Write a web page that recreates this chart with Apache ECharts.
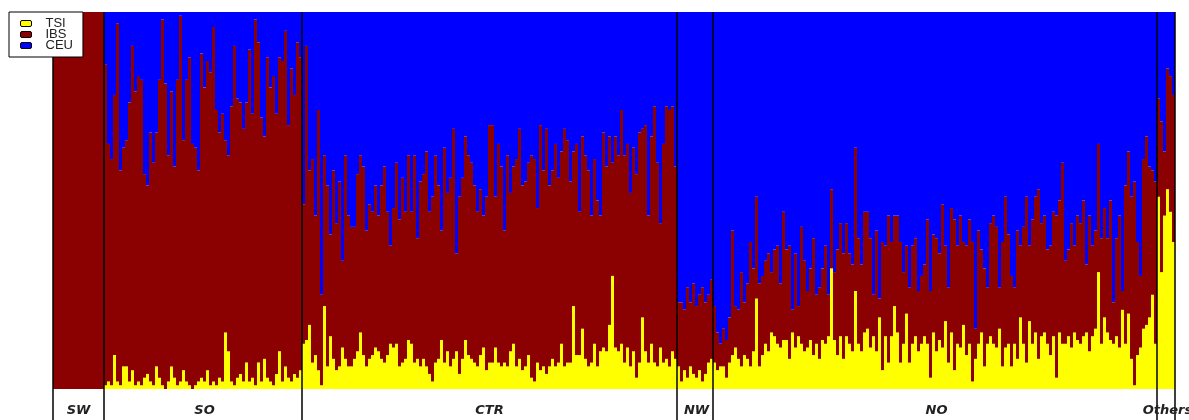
<!DOCTYPE html>
<html><head><meta charset="utf-8">
<script src="https://cdn.jsdelivr.net/npm/echarts@6/dist/echarts.min.js"></script>
<style>html,body{margin:0;padding:0;background:#fff}#c{width:1189px;height:420px}</style>
</head><body><div id="c"></div>
<script>
// Groups (population regions) and number of individuals (bars) in each
const groupNames = ['SW','SO','CTR','NW','NO','Others'];
const groupSizes = [17,66,125,12,148,6];
const seriesNames = ['TSI','IBS','CEU'];

// Ancestry proportions (%) per individual, per group
const swTSI = [0,0,0,0,0,0,0,0,0,0,0,0,0,0,0,0,0];
const swIBS = [100,100,100,100,100,100,100,100,100,100,100,100,100,100,100,100,100];
const swCEU = [0,0,0,0,0,0,0,0,0,0,0,0,0,0,0,0,0];

const soTSI = [1,2,1,9,2,1,6,6,2,5,1,2,1,3,4,2,1,6,3,1,0,2,6,3,1,2,5,2,1,0,1,2,3,2,5,1,2,1,3,2,15,10,2,1,3,4,2,7,2,3,1,7,2,8,3,2,1,4,10,2,6,3,2,4,3,5];
const soIBS = [85,63,60,69,95,57,58,60,74,86,78,81,81,54,50,66,59,62,79,97,81,60,73,56,81,97,61,80,87,65,63,56,86,78,82,83,94,73,65,71,51,52,73,90,74,72,67,69,88,70,97,85,70,59,85,78,82,69,78,85,89,67,83,74,89,83];
const soCEU = [14,35,39,22,3,42,36,34,24,9,21,17,18,43,46,32,40,32,18,2,19,38,21,41,18,1,34,18,12,35,36,42,11,20,13,16,4,26,32,27,34,38,25,9,23,24,31,24,10,27,2,8,28,33,12,20,17,27,12,13,5,30,15,22,8,12];

const ctrTSI = [12,13,17,7,9,5,1,22,6,14,8,5,6,11,8,6,6,8,10,15,9,6,8,9,11,10,8,7,9,12,11,12,6,7,8,13,12,7,8,6,8,6,4,2,7,8,13,7,10,6,8,10,4,8,13,9,8,7,6,9,11,5,7,
  7,11,7,6,7,6,10,12,6,8,5,6,9,3,2,7,5,6,4,6,8,6,7,12,6,7,7,22,9,9,16,8,6,7,12,6,10,11,10,17,30,11,10,12,7,11,6,10,3,7,19,10,7,12,7,6,11,7,8,6,10,8];
const ctrIBS = [37,78,41,54,37,69,24,40,48,27,50,39,49,23,54,40,37,35,47,47,50,36,41,38,43,36,46,52,38,26,37,48,39,49,39,49,35,55,32,49,49,57,43,49,55,46,29,57,42,50,61,26,47,48,54,53,52,47,41,44,35,46,63,
  63,40,58,53,35,56,42,47,55,61,49,49,51,59,59,41,65,52,65,48,50,59,49,51,63,59,48,41,56,38,51,54,52,39,49,44,36,57,49,50,30,56,52,62,55,54,46,54,54,61,50,60,39,55,68,54,33,58,67,68,65,51];
const ctrCEU = [51,9,42,39,54,26,75,38,46,59,42,56,45,66,38,54,57,57,43,38,41,58,51,53,46,54,46,41,53,62,52,40,55,44,53,38,53,38,60,45,43,37,53,49,38,46,58,36,48,44,31,64,49,44,33,38,40,46,53,47,54,49,30,
  30,49,35,41,58,38,48,41,39,31,46,45,40,38,39,52,30,42,31,46,42,35,44,37,31,34,45,37,35,53,33,38,42,54,39,50,54,32,41,33,40,33,38,26,38,35,48,36,43,32,31,30,54,33,25,40,56,35,25,26,25,41];

const nwTSI = [6,2,5,3,6,4,3,5,2,4,7,8];
const nwIBS = [17,21,16,24,17,24,19,20,25,19,18,21];
const nwCEU = [77,77,79,73,77,72,78,75,73,77,75,71];

const noTSI = [7,5,6,6,3,7,9,11,8,6,9,8,6,10,24,6,9,12,10,15,14,12,11,13,13,8,15,11,14,12,10,11,13,9,12,8,13,12,14,32,13,9,14,8,14,12,10,26,12,10,15,
  16,11,14,10,19,5,14,7,14,22,15,7,12,20,7,12,14,10,12,14,12,3,15,10,13,11,18,7,15,5,12,11,17,9,12,2,8,12,15,6,12,14,12,11,16,6,11,12,6,
  12,8,19,12,7,18,12,15,8,14,15,12,9,14,3,15,12,12,14,11,15,13,12,14,15,10,14,16,31,12,19,15,13,12,14,11,21,12,20,8,1,9,11,16,17,19,25,12];
const noIBS = [15,10,6,10,10,12,33,11,13,25,14,20,33,22,27,22,21,22,26,16,23,26,17,34,24,30,6,25,8,31,24,15,19,31,13,19,19,26,11,21,18,28,30,28,30,24,23,38,28,23,32,
  31,29,11,32,5,34,24,39,25,24,31,32,19,18,20,26,26,16,18,19,33,23,26,30,23,38,20,20,33,40,26,35,22,29,33,37,8,30,22,26,15,30,34,32,11,33,40,29,24,
  15,34,19,31,44,20,33,36,45,30,31,25,29,33,43,35,48,22,23,33,23,33,32,36,18,36,24,26,34,28,29,25,37,11,26,35,5,42,43,43,54,30,19,45,50,40,33,43];
const noCEU = [78,85,88,84,87,81,58,78,79,69,77,72,61,68,49,72,70,66,64,69,63,62,72,53,63,62,79,64,78,57,66,74,68,60,75,73,68,62,75,47,69,63,56,64,56,64,67,36,60,67,53,
  53,60,75,58,76,61,62,54,61,54,54,61,69,62,73,62,60,74,70,67,55,74,59,60,64,51,62,73,52,55,62,54,61,62,55,61,84,58,63,68,73,56,54,57,73,61,49,59,70,
  73,58,62,57,49,62,55,49,47,56,54,63,62,53,54,50,40,66,63,56,62,54,56,50,67,54,62,58,35,60,52,60,50,77,60,54,74,46,37,49,45,61,70,39,33,41,42,45];

const othTSI = [51,31,46,53,47,39];
const othIBS = [26,40,17,32,36,39];
const othCEU = [23,29,37,15,17,22];

const tsi = [].concat(swTSI, soTSI, ctrTSI, nwTSI, noTSI, othTSI);
const ibs = [].concat(swIBS, soIBS, ctrIBS, nwIBS, noIBS, othIBS);
const ceu = [].concat(swCEU, soCEU, ctrCEU, nwCEU, noCEU, othCEU);

// category label of each bar = its group name
const cats = [];
const starts = new Set();
const mids = new Set();
let acc = 0;
groupSizes.forEach((n, g) => {
  starts.add(acc);
  mids.add(acc + Math.floor(n / 2));
  for (let k = 0; k < n; k++) cats.push(groupNames[g]);
  acc += n;
});

const colors = ['#ffff00', '#8b0000', '#0000ff'];
const chart = echarts.init(document.getElementById('c'), null, {renderer: 'canvas'});
const mk = (name, data, color) => ({
  name, type: 'bar', stack: 'q', data,
  barCategoryGap: '0%', barWidth: '100%',
  itemStyle: {color, borderWidth: 0},
  emphasis: {disabled: true},
  z: 2
});
chart.setOption({
  animation: false,
  backgroundColor: '#fff',
  grid: {left: 53, right: 14, top: 12, bottom: 31, containLabel: false, outerBoundsMode: 'none'},
  legend: {
    data: seriesNames, orient: 'vertical', left: 9, top: 12,
    backgroundColor: '#fff', borderColor: '#000', borderWidth: 1, borderRadius: 0,
    padding: [5, 10, 5, 11], itemWidth: 11, itemHeight: 6, itemGap: -2,
    icon: 'roundRect', itemStyle: {borderColor: '#000', borderWidth: 1},
    textStyle: {fontSize: 13, color: '#222', fontFamily: 'Liberation Sans', lineHeight: 10, padding: [0, 0, 0, 9]},
    selectedMode: false, z: 20
  },
  xAxis: {
    type: 'category', data: cats, z: 10,
    axisLine: {show: false},
    axisTick: {show: true, interval: (i) => starts.has(i), length: 31, lineStyle: {color: '#000', width: 1.5}},
    splitLine: {show: true, interval: (i) => starts.has(i), lineStyle: {color: '#000', width: 1.5}},
    axisLabel: {interval: (i) => mids.has(i), fontStyle: 'italic', fontWeight: 'bold', fontSize: 13,
      color: '#222', margin: 15, fontFamily: 'DejaVu Sans', hideOverlap: false}
  },
  yAxis: {type: 'value', min: 0, max: 100, show: false, splitLine: {show: false}},
  series: [mk('TSI', tsi, colors[0]), mk('IBS', ibs, colors[1]), mk('CEU', ceu, colors[2])]
});
</script></body></html>
